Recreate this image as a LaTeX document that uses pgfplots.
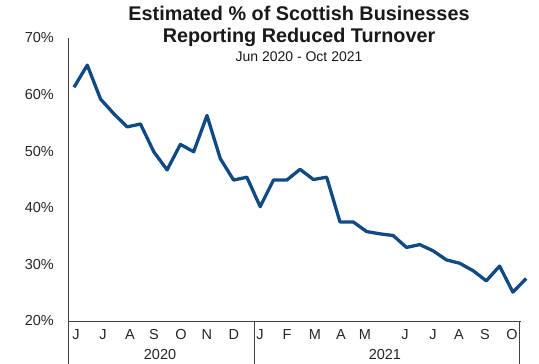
\documentclass[border=0pt]{standalone}
\usepackage{fontspec}
\setmainfont{Liberation Sans}
\usepackage{pgfplots}
\pgfplotsset{compat=1.18}
\definecolor{navy}{RGB}{16,74,132}
\definecolor{axgray}{RGB}{64,64,64}
\begin{document}
\begin{tikzpicture}
\useasboundingbox (-68pt,-43pt) rectangle (471pt,321pt);
\begin{axis}[
 at={(0pt,0pt)}, anchor=south west,
 scale only axis, width=453pt, height=283pt,
 xmin=-0.45, xmax=33.61, ymin=20, ymax=70,
 clip=false,
 axis x line=bottom, axis y line=left,
 axis line style={-, axgray, line width=0.8pt},
 ytick={20,30,40,50,60,70},
 yticklabels={20\%,30\%,40\%,50\%,60\%,70\%},
 yticklabel style={anchor=east, inner sep=0pt, xshift=-14pt, font=\fontsize{14.5}{16}\selectfont, text=black!85},
 xtick={0.15,2.18,4.21,6.02,8.05,10.0,12.03,13.98,16.02,18.12,20.08,21.88,24.89,26.99,28.95,30.9,32.93},
 xticklabels={J,J,A,S,O,N,D,J,F,M,A,M,J,J,A,S,O},
 xticklabel style={anchor=base, inner sep=0pt, yshift=-19pt, font=\fontsize{14.5}{16}\selectfont, text=black!85},
 major tick length=0pt,
 tick style={draw=none},
]
\addplot[navy, line width=3.3pt, line join=round, mark=none] coordinates {
(0,61.3) (1,65.2) (2,59.2) (3,56.6) (4,54.3) (5,54.8) (6,49.9) (7,46.7) (8,51.2) (9,49.9)
(10,56.3) (11,48.7) (12,44.9) (13,45.4) (14,40.2) (15,44.9) (16,44.9) (17,46.8) (18,45.0) (19,45.4)
(20,37.5) (21,37.5) (22,35.8) (23,35.4) (24,35.1) (25,33.0) (26,33.5) (27,32.4) (28,30.8) (29,30.2)
(30,28.9) (31,27.1) (32,29.7) (33,25.1) (34,27.5)
};
\draw[axgray, line width=0.8pt] (axis cs:-0.45,20) -- ++(0pt,-43pt);
\draw[axgray, line width=0.8pt] (axis cs:13.57,20) -- ++(0pt,-43pt);
\draw[axgray, line width=0.8pt] (axis cs:33.5,20) -- ++(0pt,-43pt);
\node[anchor=base, inner sep=0pt, yshift=-39pt, font=\fontsize{14.5}{16}\selectfont, text=black!85] at (axis cs:6.47,20) {2020};
\node[anchor=base, inner sep=0pt, yshift=-39pt, font=\fontsize{14.5}{16}\selectfont, text=black!85] at (axis cs:23.38,20) {2021};
\end{axis}
\node[anchor=base, inner sep=0pt, font=\bfseries\fontsize{19.8}{22}\selectfont, text=black!90] at (231pt,300.3pt) {Estimated \% of Scottish Businesses};
\node[anchor=base, inner sep=0pt, font=\bfseries\fontsize{19.8}{22}\selectfont, text=black!90] at (231pt,278.3pt) {Reporting Reduced Turnover};
\node[anchor=base, inner sep=0pt, font=\fontsize{14}{16}\selectfont, text=black!90] at (231pt,259.3pt) {Jun 2020 - Oct 2021};
\end{tikzpicture}
\end{document}
